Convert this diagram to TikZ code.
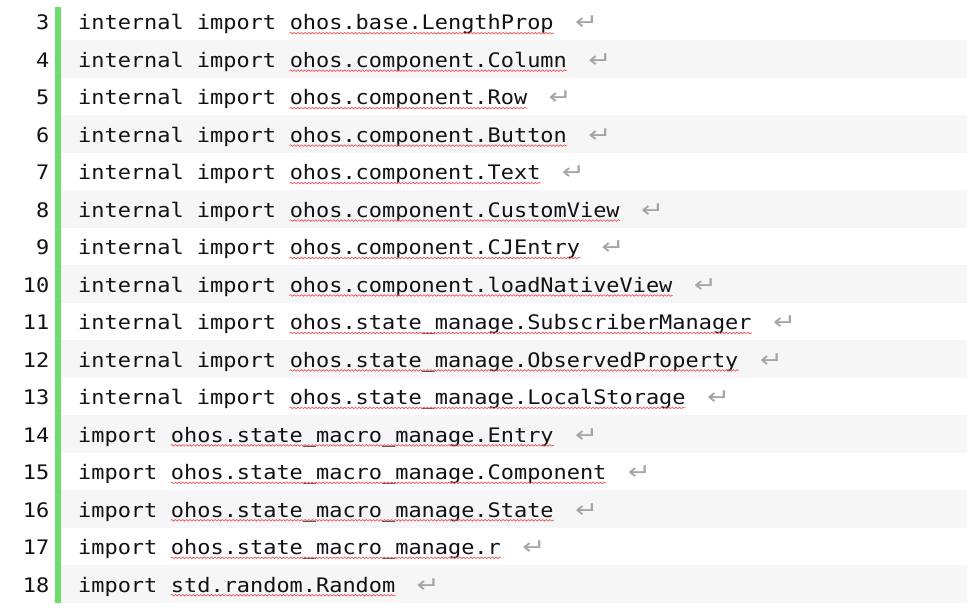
\documentclass[tikz,border=0pt]{standalone}
\usepackage{fontspec}
\usetikzlibrary{decorations.pathmorphing}
\newfontfamily\codefont[FakeStretch=1.096]{DejaVu Sans Mono}
\newfontfamily\retfont[FakeStretch=1.25]{DejaVu Sans}
\definecolor{barGreen}{RGB}{108,222,108}
\definecolor{rowGray}{RGB}{246,246,246}
\definecolor{codeInk}{RGB}{18,18,18}
\definecolor{retGray}{RGB}{165,165,165}
\definecolor{waveRed}{RGB}{232,82,82}
\tikzset{
  codetext/.style={anchor=base west, inner sep=0pt, font=\codefont\fontsize{20}{24}\selectfont, text=codeInk},
  linenum/.style={anchor=base east, inner sep=0pt, font=\codefont\fontsize{20}{24}\selectfont, text=codeInk},
  retmark/.style={anchor=base west, inner sep=0pt, font=\retfont\fontsize{22}{24}\selectfont, text=retGray},
  squiggle/.style={draw=waveRed, line width=0.65pt, decorate, decoration={snake, amplitude=0.8pt, segment length=3.6pt}},
}
\begin{document}
\begin{tikzpicture}[x=1pt,y=1pt]
\useasboundingbox (0,0) rectangle (967,-613);
\fill[white] (0,0) rectangle (967,-613);
% alternating row bands (even line numbers shaded)
\foreach \k in {4,6,...,18}{
  \fill[rowGray] (61,{-3-(\k-3)*37.47}) rectangle (967,{-3-(\k-2)*37.47});
}
% green change bar
\fill[barGreen] (55,-7) rectangle (61,-603);
\foreach \n/\pre/\mod in {
  3/internal import/ohos.base.LengthProp,
  4/internal import/ohos.component.Column,
  5/internal import/ohos.component.Row,
  6/internal import/ohos.component.Button,
  7/internal import/ohos.component.Text,
  8/internal import/ohos.component.CustomView,
  9/internal import/ohos.component.CJEntry,
  10/internal import/ohos.component.loadNativeView,
  11/internal import/ohos.state\_manage.SubscriberManager,
  12/internal import/ohos.state\_manage.ObservedProperty,
  13/internal import/ohos.state\_manage.LocalStorage,
  14/import/ohos.state\_macro\_manage.Entry,
  15/import/ohos.state\_macro\_manage.Component,
  16/import/ohos.state\_macro\_manage.State,
  17/import/ohos.state\_macro\_manage.r,
  18/import/std.random.Random}{
  \pgfmathsetmacro{\yb}{-30-(\n-3)*37.47}
  \node[linenum] (num\n) at (49.5,\yb) {\n};
  \node[codetext] (pre\n) at (78,\yb) {\pre};
  \node[codetext] (mod\n) at ([xshift=13.2pt]pre\n.base east) {\mod};
  \draw[squiggle] ([yshift=-3.2pt]mod\n.base west) -- ([yshift=-3.2pt]mod\n.base east);
  \node[retmark] (ret\n) at ([xshift=21pt]mod\n.base east) {↵};
}
\end{tikzpicture}
\end{document}
